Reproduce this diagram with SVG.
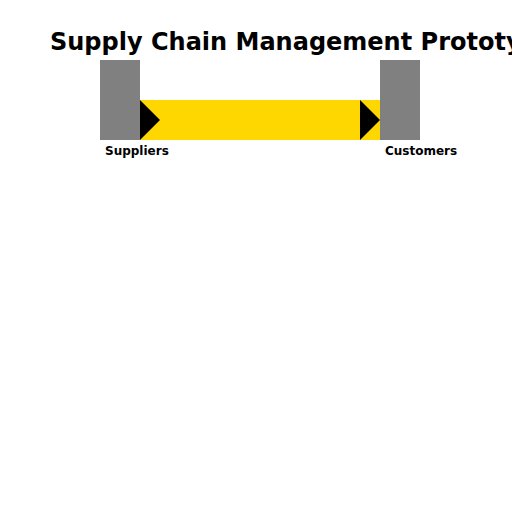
<svg xmlns="http://www.w3.org/2000/svg" width="512" height="512" viewBox="0 0 512 512">
<style>
.node{fill:#808080}
.lbl{font-family:"DejaVu Sans",sans-serif;font-weight:bold;font-size:12px;fill:#000}
.title{font-family:"DejaVu Sans",sans-serif;font-weight:bold;font-size:24px;fill:#000}
.arrow{fill:#000}
</style>
<rect width="512" height="512" fill="#fff"/>
<text class="title" x="50" y="50">Supply Chain Management Prototype</text>
<g id="connectors">
<rect x="140" y="100" width="240" height="40" fill="#ffd700"/>
<polygon class="arrow" points="140,100 160,120 140,140"/>
<polygon class="arrow" points="360,100 380,120 360,140"/>
</g>
<g id="suppliers">
<rect class="node" x="100" y="60" width="40" height="80"/>
<text class="lbl" x="105" y="155">Suppliers</text>
</g>
<g id="customers">
<rect class="node" x="380" y="60" width="40" height="80"/>
<text class="lbl" x="385" y="155">Customers</text>
</g>
</svg>
